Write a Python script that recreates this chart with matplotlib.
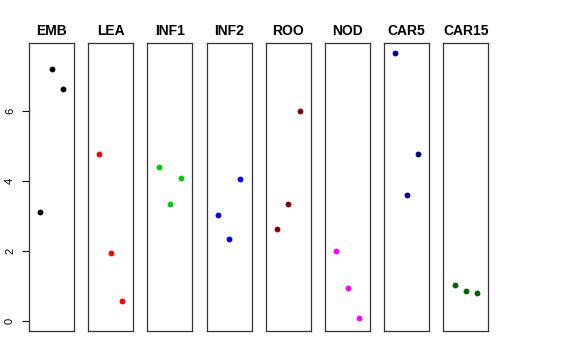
import matplotlib
matplotlib.use("Agg")
import matplotlib.pyplot as plt

plt.rcParams['font.family'] = ['Liberation Sans', 'DejaVu Sans']

# 每个面板的名称、颜色和数值
groups = ["EMB", "LEA", "INF1", "INF2", "ROO", "NOD", "CAR5", "CAR15"]
colors = ["#000000", "#FF0000", "#00CD00", "#0000FF",
          "#8B0000", "#FF00FF", "#00008B", "#006400"]
emb = [3.12, 7.21, 6.63]
lea = [4.78, 1.94, 0.55]
inf1 = [4.39, 3.33, 4.09]
inf2 = [3.02, 2.34, 4.07]
roo = [2.62, 3.35, 6.00]
nod = [1.99, 0.92, 0.07]
car5 = [7.66, 3.60, 4.77]
car15 = [1.01, 0.85, 0.79]
values = [emb, lea, inf1, inf2, roo, nod, car5, car15]
xpos = [1, 2, 3]
yticks = [0, 2, 4, 6]

fig = plt.figure(figsize=(5.76, 3.6), dpi=100)

left0 = 29 / 576
step = 59.2 / 576
width = 45 / 576
bottom = 1 - 331 / 360
height = 288 / 360

for i, (name, col, vals) in enumerate(zip(groups, colors, values)):
    ax = fig.add_axes([left0 + i * step, bottom, width, height])
    ax.plot(xpos, vals, 'o', color=col, markersize=4.2, markeredgewidth=0)
    ax.set_xlim(0, 4)
    ax.set_ylim(-0.3, 7.96)
    ax.set_xticks([])
    for s in ax.spines.values():
        s.set_linewidth(0.9)
        s.set_color('#333333')
    ax.set_title(name, fontsize=10, fontweight='bold', pad=6)
    if i == 0:
        ax.set_yticks(yticks)
        ax.set_yticklabels([str(t) for t in yticks], rotation=90, va='center', fontsize=8)
        ax.tick_params(axis='y', length=5, width=0.8, pad=5)
    else:
        ax.set_yticks([])

plt.savefig('out.png', dpi=100)
